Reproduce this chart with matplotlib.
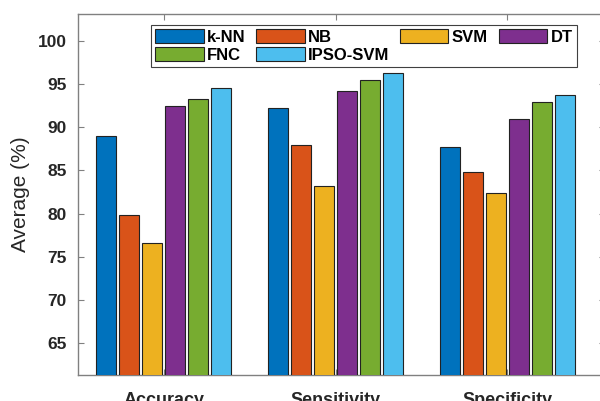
import matplotlib
matplotlib.use('Agg')
import matplotlib.pyplot as plt
import numpy as np

categories = ['Accuracy', 'Sensitivity', 'Specificity']
methods = ['k-NN', 'NB', 'SVM', 'DT', 'FNC', 'IPSO-SVM']
knn = [89.0, 92.2, 87.7]
nb = [79.8, 87.9, 84.8]
svm = [76.6, 83.2, 82.4]
dt = [92.4, 94.2, 91.0]
fnc = [93.3, 95.5, 92.9]
ipso_svm = [94.5, 96.3, 93.7]
yticks = [65, 70, 75, 80, 85, 90, 95, 100]

series = [knn, nb, svm, dt, fnc, ipso_svm]
colors = ['#0072BD', '#D95319', '#EDB120', '#7E2F8E', '#77AC30', '#4DBEEE']

plt.rcParams['font.family'] = ['Liberation Sans', 'DejaVu Sans']
plt.rcParams['xtick.direction'] = 'in'
plt.rcParams['ytick.direction'] = 'in'

fig = plt.figure(figsize=(6, 4.01), dpi=100)
W, H = 600, 401
left, right, top, bottom = 78, 605, 14, 375
ax = fig.add_axes([left / W, 1 - bottom / H, (right - left) / W, (bottom - top) / H])

x = np.arange(1, len(categories) + 1)
pitch = 0.134
width = 0.118
handles = []
for i, (vals, c) in enumerate(zip(series, colors)):
    b = ax.bar(x + (i - 2.5) * pitch, vals, width, color=c, edgecolor='#222222',
               linewidth=0.8, label=methods[i], zorder=3)
    handles.append(b)

ax.set_xlim(0.5, 0.5 + (right - left) / 171.7)
ax.set_ylim(61.33, 103.1)
ax.set_xticks(x)
ax.set_xticklabels(categories, fontsize=13, fontweight='bold', color='#262626')
ax.set_yticks(yticks)
ax.set_yticklabels([str(v) for v in yticks], fontsize=12.5, fontweight='bold', color='#262626')
ax.tick_params(axis='x', top=True, length=4, pad=12, color='#808080')
ax.tick_params(axis='y', right=True, length=4, pad=8, color='#808080')
ax.set_ylabel('Average (%)', fontsize=15, color='#262626', labelpad=6)
for s in ax.spines.values():
    s.set_color('#808080')
    s.set_linewidth(1)

order = [0, 4, 1, 5, 2, 3]
leg = ax.legend([handles[k] for k in order], [methods[k] for k in order], ncol=4,
                loc='upper left', bbox_to_anchor=((151 - left) / (right - left), (bottom - 25) / (bottom - top)),
                borderaxespad=0, prop={'weight': 'bold', 'size': 12}, handlelength=2.9,
                handleheight=0.9, handletextpad=0.2, columnspacing=0.65, labelspacing=0.15,
                borderpad=0.25, fancybox=False, framealpha=1, edgecolor='#404040')
leg.get_frame().set_linewidth(0.8)

fig.savefig('out.png', dpi=100)
